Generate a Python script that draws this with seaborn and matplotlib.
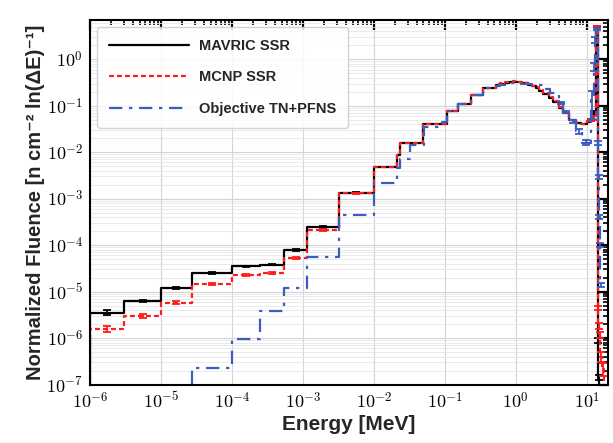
import numpy as np
import pandas as pd
import matplotlib
matplotlib.use('Agg')
import matplotlib.pyplot as plt
import seaborn as sns
from matplotlib.ticker import LogLocator, NullFormatter, FuncFormatter

# group boundaries [MeV] and normalized fluence per group
mavric_edges = [1e-6, 3e-6, 1e-5, 2.7e-5, 1e-4, 2.5e-4, 5.4e-4, 1.15e-3, 3.2e-3, 1e-2,
                2.1e-2, 2.32e-2, 4.9e-2, 0.106, 0.155, 0.232, 0.347, 0.52,
                0.6, 0.7, 0.8, 0.9, 1.0, 1.1, 1.2, 1.35, 1.5, 1.7, 1.9, 2.1, 2.4, 2.9,
                3.4, 4.0, 4.7, 5.7, 7.0, 8.2, 9.3, 10.2, 11.0, 12.0, 13.5,
                14.2, 14.6, 15.0]
mavric_flux = [3.5e-6, 6.2e-6, 1.17e-5, 2.5e-5, 3.5e-5, 3.8e-5, 7.8e-5, 2.45e-4, 1.35e-3,
               4.9e-3, 8.7e-3, 0.0156, 0.0407, 0.075, 0.108, 0.166, 0.239,
               0.285, 0.30, 0.31, 0.32, 0.325, 0.325, 0.32, 0.315, 0.305, 0.285, 0.26,
               0.245, 0.21, 0.18, 0.145, 0.12, 0.09, 0.068, 0.048, 0.042, 0.040, 0.041,
               0.045, 0.05, 0.07,
               5.0, 9e-7, 1.4e-7]
mavric_rel = [0.12, 0.05, 0.05, 0.04, 0.04, 0.04, 0.04, 0.03, 0.02,
              0, 0, 0, 0, 0, 0, 0, 0,
              0, 0, 0, 0, 0, 0, 0, 0, 0, 0, 0,
              0, 0, 0, 0, 0, 0, 0, 0, 0, 0, 0,
              0, 0.05, 0.12,
              0.02, 0.12, 0.12]

mcnp_edges = [1e-6, 3e-6, 1e-5, 2.7e-5, 1e-4, 2.5e-4, 5.4e-4, 1.15e-3, 3.2e-3, 1e-2,
              2.1e-2, 2.32e-2, 4.9e-2, 0.106, 0.155, 0.232, 0.347, 0.52,
              0.6, 0.7, 0.8, 0.9, 1.0, 1.1, 1.2, 1.35, 1.5, 1.7, 1.9, 2.1, 2.4, 2.9,
              3.4, 4.0, 4.7, 5.7, 7.0, 8.2, 9.3, 10.2, 11.0, 12.0, 13.5,
              14.2, 14.6, 15.0, 15.5, 16.5, 17.5]
mcnp_flux = [1.56e-6, 3.0e-6, 5.8e-6, 1.45e-5, 2.27e-5, 2.5e-5, 5.2e-5, 2.1e-4, 1.3e-3,
             4.8e-3, 8.5e-3, 0.0155, 0.041, 0.076, 0.11, 0.17, 0.242,
             0.29, 0.31, 0.32, 0.33, 0.335, 0.335, 0.33, 0.32, 0.31, 0.29, 0.265,
             0.25, 0.215, 0.185, 0.15, 0.125, 0.095, 0.07, 0.05, 0.043, 0.041, 0.041,
             0.046, 0.05, 0.055,
             5.2, 4.4e-6, 1.8e-6, 1.2e-6, 4e-7, 2.2e-7]
mcnp_rel = [0.15, 0.08, 0.06, 0.05, 0.05, 0.05, 0.05, 0.04, 0.02,
            0, 0, 0, 0, 0, 0, 0, 0,
            0, 0, 0, 0, 0, 0, 0, 0, 0, 0, 0,
            0, 0, 0, 0, 0, 0, 0, 0, 0, 0, 0,
            0, 0.05, 0.1,
            0.02, 0.1, 0.15, 0.15, 0.25, 0.3]

objective_edges = [2.7e-5, 1e-4, 2.5e-4, 5.4e-4, 1.15e-3, 3.2e-3, 1e-2, 2.1e-2, 2.35e-2,
                   3.2e-2, 5.1e-2, 0.09, 0.106, 0.155, 0.232, 0.347, 0.52,
                   0.6, 0.7, 0.8, 0.9, 1.0, 1.1, 1.2, 1.35, 1.5, 1.7, 1.9, 2.1, 2.5,
                   3.0, 4.0, 4.7, 5.7, 7.0, 8.5, 11.5, 12.5, 13.0, 13.5,
                   14.2, 14.5, 14.8, 15.2, 15.6, 16.5]
objective_flux = [2.3e-7, 9.5e-7, 3.8e-6, 1.17e-5, 5.6e-5, 4.5e-4, 2.2e-3, 4.5e-3, 7.1e-3,
                  0.0144, 0.0356, 0.045, 0.075, 0.108, 0.166, 0.235,
                  0.27, 0.285, 0.295, 0.305, 0.31, 0.31, 0.305, 0.30, 0.295, 0.29,
                  0.285, 0.28, 0.28, 0.234, 0.186, 0.114, 0.075, 0.046, 0.028, 0.016,
                  0.13, 0.7, 2.6,
                  4.5, 0.016, 3e-3, 4e-4, 1e-4, 1.4e-5]
objective_rel = [0, 0, 0, 0, 0, 0, 0, 0, 0,
                 0, 0, 0, 0, 0, 0, 0,
                 0, 0, 0, 0, 0, 0, 0, 0, 0, 0,
                 0, 0, 0, 0, 0, 0.04, 0.05, 0.08, 0.12, 0.12,
                 0.6, 0.2, 0.15,
                 0.05, 0.1, 0.1, 0.1, 0.1, 0.1]

FLOOR = 1e-12  # below the plotted range, used for the vertical drop at the ends


def step_frame(edges, values, drop_end=True):
    xs, ys = [edges[0]], [FLOOR]
    for lo, hi, v in zip(edges[:-1], edges[1:], values):
        xs += [lo, hi]
        ys += [v, v]
    if drop_end:
        xs.append(edges[-1])
        ys.append(FLOOR)
    return pd.DataFrame({'E': xs, 'F': ys})


def bin_errors(edges, values, rel):
    e = np.array(edges)
    v = np.array(values)
    r = np.array(rel)
    mid = np.sqrt(e[:-1] * e[1:])
    keep = r > 0
    return mid[keep], v[keep], (v * r)[keep]


sns.set_style('whitegrid')
plt.rcParams['mathtext.fontset'] = 'cm'
plt.rcParams['font.family'] = ['Liberation Sans', 'DejaVu Sans']

fig, ax = plt.subplots(figsize=(6.13, 4.43), dpi=100)
fig.subplots_adjust(left=0.147, right=0.992, top=0.955, bottom=0.132)
ax.set_xscale('log')
ax.set_yscale('log')

series = [
    ('MAVRIC SSR', mavric_edges, mavric_flux, mavric_rel, 'black', '-', True),
    ('MCNP SSR', mcnp_edges, mcnp_flux, mcnp_rel, '#ff1c1c', (0, (2.2, 1.4)), True),
    ('Objective TN+PFNS', objective_edges, objective_flux, objective_rel, '#3b5cc0',
     (0, (6, 3, 1.5, 3)), False),
]

for label, edges, flux, rel, color, ls, drop_end in series:
    df = step_frame(edges, flux, drop_end)
    sns.lineplot(data=df, x='E', y='F', sort=False, estimator=None, ax=ax,
                 color=color, linestyle=ls, lw=1.6, label=label)
    mx, my, me = bin_errors(edges, flux, rel)
    ax.errorbar(mx, my, yerr=me, fmt='none', ecolor=color, elinewidth=1.3,
                capsize=3, capthick=1.3)

ax.set_xlim(1e-6, 20)
ax.set_ylim(1e-7, 7)

pow_fmt = FuncFormatter(lambda v, pos: r'$10^{%d}$' % int(round(np.log10(v))))
ax.xaxis.set_major_locator(LogLocator(base=10, numticks=20))
ax.yaxis.set_major_locator(LogLocator(base=10, numticks=20))
ax.xaxis.set_major_formatter(pow_fmt)
ax.yaxis.set_major_formatter(pow_fmt)
ax.xaxis.set_minor_locator(LogLocator(base=10, subs=np.arange(2, 10), numticks=20))
ax.yaxis.set_minor_locator(LogLocator(base=10, subs=np.arange(2, 10), numticks=20))
ax.xaxis.set_minor_formatter(NullFormatter())
ax.yaxis.set_minor_formatter(NullFormatter())

ax.grid(True, which='major', color='#d4d4d4', lw=0.8)
ax.grid(True, which='minor', axis='y', color='#e6e6e6', lw=0.6)
ax.grid(False, which='minor', axis='x')

ax.tick_params(which='both', direction='in', top=True, right=True, colors='black')
ax.tick_params(which='major', length=7, width=1.6, labelsize=13, pad=5)
ax.tick_params(which='minor', length=3.5, width=1.2)
for sp in ax.spines.values():
    sp.set_color('black')
    sp.set_linewidth(1.5)

ax.set_xlabel('Energy [MeV]', fontsize=15, fontweight='bold', labelpad=2)
ax.set_ylabel('Normalized Fluence [n cm⁻² ln(ΔE)⁻¹]', fontsize=14.5, fontweight='bold',
              labelpad=1)

leg = ax.legend(loc='upper left', prop={'weight': 'bold', 'size': 10.5},
                handlelength=5.5, handletextpad=0.7, labelspacing=1.2, borderpad=0.8,
                borderaxespad=0.5, fancybox=True, framealpha=0.85, edgecolor='#cccccc')

plt.savefig('out.png', dpi=100)
